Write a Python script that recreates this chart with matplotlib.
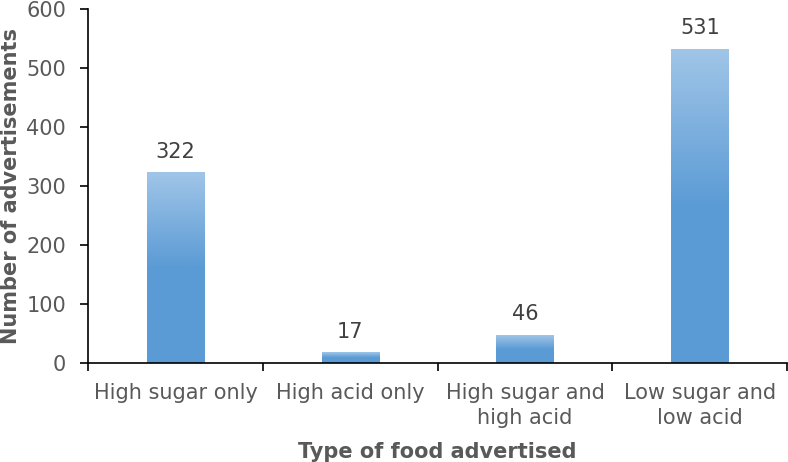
import matplotlib
matplotlib.use("Agg")
import matplotlib.pyplot as plt
import numpy as np
from matplotlib.colors import LinearSegmentedColormap
from matplotlib.ticker import FixedLocator

categories = ["High sugar only", "High acid only", "High sugar and\nhigh acid", "Low sugar and\nlow acid"]
values = [322, 17, 46, 531]
yticks = [0, 100, 200, 300, 400, 500, 600]

plt.rcParams['font.family'] = ['DejaVu Sans']
fig = plt.figure(figsize=(7.88, 4.62), dpi=100)
ax = fig.add_axes([0.112, 0.2145, 0.887, 0.7665])

x = np.arange(len(categories))
width = 0.33
bars = ax.bar(x, values, width=width, color='none', edgecolor='none')

cmap = LinearSegmentedColormap.from_list('g', [(0, '#5B9BD5'), (0.5, '#5B9BD5'), (1.0, '#A0C5E8')])
grad = np.linspace(0, 1, 256).reshape(-1, 1)
for b in bars:
    x0 = b.get_x(); w = b.get_width(); h = b.get_height()
    ax.imshow(grad, cmap=cmap, aspect='auto', origin='lower',
              extent=[x0, x0 + w, 0, h], zorder=2, interpolation='bilinear')
    ax.annotate(f"{int(h)}", (x0 + w / 2, h), xytext=(0, 11), textcoords='offset points',
                ha='center', va='baseline', fontsize=15, color='#404040')

ax.set_xlim(-0.5, len(categories) - 0.5)
ax.set_ylim(0, 600)
ax.set_yticks(yticks)
ax.set_xticks(x)
ax.set_xticklabels(categories, fontsize=15, color='#595959', linespacing=1.33)
ax.xaxis.set_minor_locator(FixedLocator(np.arange(-0.5, len(categories), 1.0)))
ax.tick_params(axis='x', which='major', length=0, pad=14.5)
ax.tick_params(axis='x', which='minor', length=6, width=1.2, direction='out', color='black')
ax.tick_params(axis='y', labelsize=15, labelcolor='#595959', length=6, width=1.2, direction='out', pad=10)

for s in ['top', 'right']:
    ax.spines[s].set_visible(False)
for s in ['left', 'bottom']:
    ax.spines[s].set_linewidth(1.2)
    ax.spines[s].set_color('black')

ax.set_ylabel("Number of advertisements", fontsize=15, fontweight='bold', color='#595959', labelpad=4)
ax.set_xlabel("Type of food advertised", fontsize=15, fontweight='bold', color='#595959', labelpad=9.5)

fig.savefig("out.png", dpi=100)
